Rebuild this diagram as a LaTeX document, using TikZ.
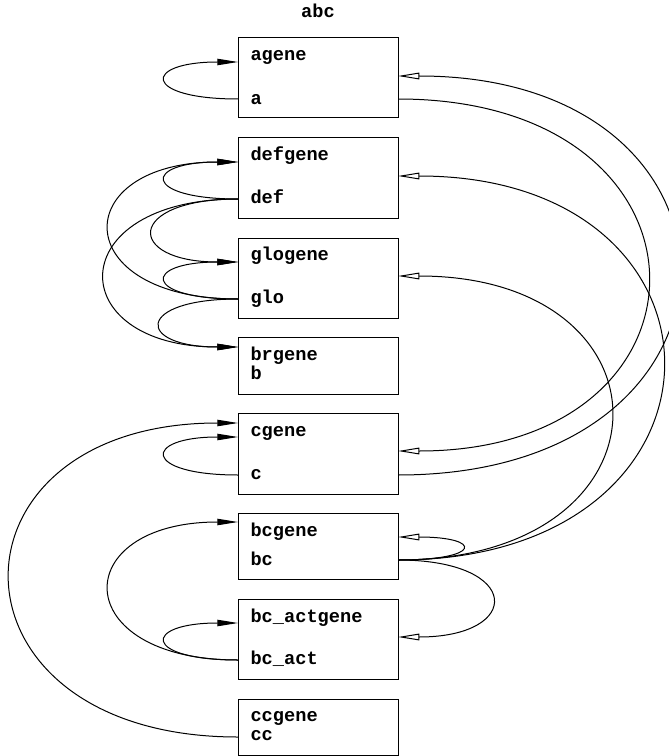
\documentclass[tikz,border=0pt]{standalone}
\usepackage{fontspec}
\setmonofont{Liberation Mono}
\usetikzlibrary{arrows.meta}
\tikzset{
  genebox/.style={draw, line width=0.75pt},
  field/.style={anchor=base west, inner sep=0pt},
  act/.style={-{Triangle[length=15.5pt,width=4.8pt]}},
  rep/.style={-{Triangle[open,length=16pt,width=5pt]}}
}

\begin{document}
\begin{tikzpicture}[x=0.75pt, y=-0.75pt, line width=0.75pt, font=\ttfamily\bfseries\fontsize{14}{16}\selectfont]
  \useasboundingbox (0,0) rectangle (668,756);
  \node[anchor=base, inner sep=0pt] (title) at (318,18) {abc};

  % boxes and their fields
  \draw[genebox] (238,38) rectangle (398,118);
  \node[field] (agene) at (250,61) {agene};
  \node[field] (a) at (250,105) {a};
  \coordinate (agene-w) at (238,62);  \coordinate (agene-e) at (398,76);
  \coordinate (a-w) at (238,99);      \coordinate (a-e) at (398,99);

  \draw[genebox] (238,138) rectangle (398,218);
  \node[field] (defgene) at (250,161) {defgene};
  \node[field] (def) at (250,203) {def};
  \coordinate (defgene-w) at (238,162); \coordinate (defgene-e) at (398,176);
  \coordinate (def-w) at (238,199);

  \draw[genebox] (238,238) rectangle (398,318);
  \node[field] (glogene) at (250,260) {glogene};
  \node[field] (glo) at (250,303) {glo};
  \coordinate (glogene-w) at (238,262); \coordinate (glogene-e) at (398,276);
  \coordinate (glo-w) at (238,299);

  \draw[genebox] (238,337) rectangle (398,394);
  \node[field] (brgene) at (250,360) {brgene};
  \node[field] (b) at (250,379) {b};
  \coordinate (brgene-w) at (238,347);

  \draw[genebox] (238,413) rectangle (398,494);
  \node[field] (cgene) at (250,436) {cgene};
  \node[field] (c) at (250,479) {c};
  \coordinate (cgene-w1) at (238,423); \coordinate (cgene-w2) at (238,437);
  \coordinate (cgene-e) at (398,451);
  \coordinate (c-w) at (238,475);      \coordinate (c-e) at (398,475);

  \draw[genebox] (238,513) rectangle (398,579);
  \node[field] (bcgene) at (250,536) {bcgene};
  \node[field] (bc) at (250,565) {bc};
  \coordinate (bcgene-w) at (238,522); \coordinate (bcgene-e) at (398,537);
  \coordinate (bc-e) at (398,560);

  \draw[genebox] (238,599) rectangle (398,679);
  \node[field] (bc_actgene) at (250,622) {bc\_actgene};
  \node[field] (bc_act) at (250,664) {bc\_act};
  \coordinate (bc_actgene-w) at (238,623); \coordinate (bc_actgene-e) at (398,637);
  \coordinate (bc_act-w) at (238,660);

  \draw[genebox] (238,699) rectangle (398,755);
  \node[field] (ccgene) at (250,721) {ccgene};
  \node[field] (cc) at (250,740) {cc};
  \coordinate (cc-w) at (238,737);

  % left side
  \draw[act] (a-w) .. controls +(-96,0) and +(-96,0) .. (agene-w);
  \draw[act] (def-w) .. controls +(-96,0) and +(-96,0) .. (defgene-w);
  \draw[act] (def-w) .. controls +(-113,0) and +(-113,0) .. (glogene-w);
  \draw[act] (def-w) .. controls +(-177,0) and +(-177,0) .. (brgene-w);
  \draw[act] (glo-w) .. controls +(-171,0) and +(-171,0) .. (defgene-w);
  \draw[act] (glo-w) .. controls +(-96,0) and +(-96,0) .. (glogene-w);
  \draw[act] (glo-w) .. controls +(-103,0) and +(-103,0) .. (brgene-w);
  \draw[act] (c-w) .. controls +(-96,0) and +(-96,0) .. (cgene-w2);
  \draw[act] (cc-w) .. controls +(-303,0) and +(-303,0) .. (cgene-w1);
  \draw[act] (bc_act-w) .. controls +(-171,0) and +(-171,0) .. (bcgene-w);
  \draw[act] (bc_act-w) .. controls +(-96,0) and +(-96,0) .. (bc_actgene-w);

  % right side
  \draw[rep] (a-e) .. controls +(332,0) and +(332,0) .. (cgene-e);
  \draw[rep] (c-e) .. controls +(373,0) and +(373,0) .. (agene-e);
  \draw[rep] (bc-e) .. controls +(352,0) and +(352,0) .. (defgene-e);
  \draw[rep] (bc-e) .. controls +(283,0) and +(283,0) .. (glogene-e);
  \draw[rep] (bc-e) .. controls +(85,0) and +(85,0) .. (bcgene-e);
  \draw[rep] (bc-e) .. controls +(125,0) and +(125,0) .. (bc_actgene-e);
\end{tikzpicture}
\end{document}
